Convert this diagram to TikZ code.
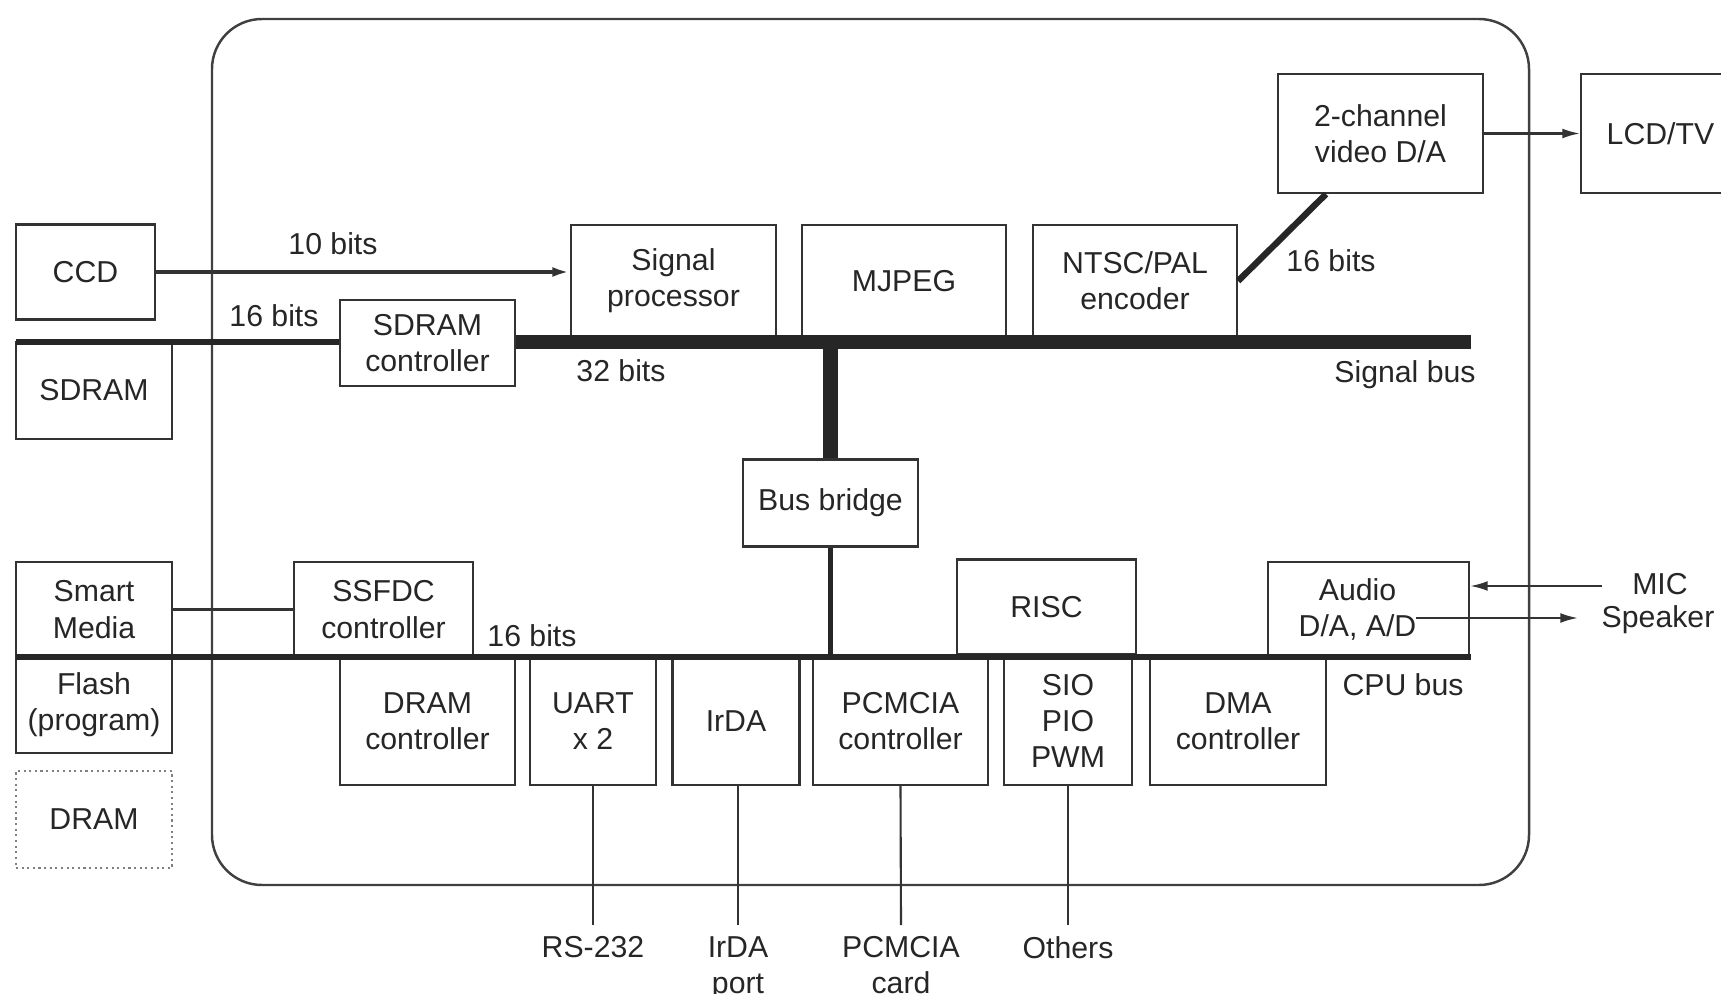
\documentclass[tikz,border=0pt]{standalone}
\usepackage{fontspec}
\setmainfont{Liberation Sans}
\usetikzlibrary{arrows.meta}

\begin{document}
\begin{tikzpicture}[x=0.01cm, y=-0.01cm,
  txt/.style={font=\fontsize{8.6}{10.3}\selectfont, text=black!85, align=center},
  blk/.style={txt, draw=black!80, line width=0.6pt, inner sep=0pt},
  lbl/.style={txt, inner sep=0pt},
  sbus/.style={line width=4pt, draw=black!85},
  cbus/.style={line width=1.8pt, draw=black!85},
  wire/.style={line width=0.6pt, draw=black!80},
  arr/.style={-{Latex[length=5pt,width=2.8pt]}}]
\useasboundingbox (0,0) rectangle (1721,994);
\clip (0,0) rectangle (1721,994);

\draw[line width=0.7pt, draw=black!75, rounded corners=0.5cm] (212,19) rectangle (1529,885);

% outside parts
\node[blk, minimum width=1.39cm, minimum height=0.95cm] (ccd) at (85.5,272) {CCD};
\node[blk, minimum width=1.56cm, minimum height=0.97cm] (sdram) at (94,390.5) {SDRAM};
\node[blk, minimum width=1.56cm, minimum height=0.95cm] (smartmedia) at (94,609.5) {Smart\\Media};
\node[blk, minimum width=1.56cm, minimum height=0.96cm] (flash) at (94,705) {Flash\\(program)};
\node[blk, draw=black!50, densely dotted, minimum width=1.56cm, minimum height=0.97cm] (dram) at (94,819.5) {DRAM};
\node[blk, minimum width=1.59cm, minimum height=1.19cm] (lcdtv) at (1660.5,133.5) {LCD/TV};

% signal bus side
\node[blk, minimum width=1.75cm, minimum height=0.86cm] (sdramctl) at (427.5,343) {SDRAM\\controller};
\node[blk, minimum width=2.05cm, minimum height=1.12cm] (sigproc) at (673.5,281) {Signal\\processor};
\node[blk, minimum width=2.04cm, minimum height=1.12cm] (mjpeg) at (904,281) {MJPEG};
\node[blk, minimum width=2.04cm, minimum height=1.12cm] (ntsc) at (1135,281) {NTSC/PAL\\encoder};
\node[blk, minimum width=2.05cm, minimum height=1.19cm] (videoda) at (1380.5,133.5) {2-channel\\video D/A};
\node[blk, minimum width=1.75cm, minimum height=0.87cm] (bridge) at (830.5,503) {Bus bridge};

% cpu bus side
\node[blk, minimum width=1.79cm, minimum height=0.95cm] (ssfdc) at (383.5,609.5) {SSFDC\\controller};
\node[blk, minimum width=1.79cm, minimum height=0.95cm] (risc) at (1046.5,607) {RISC};
\node[blk, minimum width=2.01cm, minimum height=0.95cm] (audio) at (1368.5,609.5) {Audio\kern0.22cm\\D/A, A/D\kern0.22cm};
\node[blk, minimum width=1.75cm, minimum height=1.28cm] (dramctl) at (427.5,721) {DRAM\\controller};
\node[blk, minimum width=1.26cm, minimum height=1.28cm] (uart) at (593,721) {UART\\x 2};
\node[blk, minimum width=1.27cm, minimum height=1.28cm] (irda) at (736,721) {IrDA};
\node[blk, minimum width=1.75cm, minimum height=1.28cm] (pcmcia) at (900.5,721) {PCMCIA\\controller};
\node[blk, minimum width=1.28cm, minimum height=1.28cm] (sio) at (1068,721) {SIO\\PIO\\PWM};
\node[blk, minimum width=1.76cm, minimum height=1.28cm] (dma) at (1238,721) {DMA\\controller};

% labels
\node[lbl] (bits10) at (333,244) {10 bits};
\node[lbl] (bits16a) at (274,316) {16 bits};
\node[lbl] (bits32) at (621,371) {32 bits};
\node[lbl] (sigbus) at (1405,375) {Signal bus};
\node[lbl] (bits16b) at (1331,261) {16 bits};
\node[lbl] (bits16c) at (532,636) {16 bits};
\node[lbl] (cpubus) at (1403,685) {CPU bus};
\node[lbl] (mic) at (1660,584) {MIC};
\node[lbl] (speaker) at (1658,620) {Speaker};
\node[lbl, anchor=north, inner sep=3pt] (rs232) at (593,925) {RS-232};
\node[lbl, anchor=north, inner sep=3pt] (irdaport) at (738,925) {IrDA\\port};
\node[lbl, anchor=north, inner sep=3pt] (pcmciacard) at (901,925) {PCMCIA\\card};
\node[lbl, anchor=north, inner sep=3pt] (others) at (1068,925) {Others};

\coordinate (sbL) at (16,342);
\coordinate (sbR) at (1471,342);
\coordinate (cbL) at (16,657);
\coordinate (cbR) at (1471,657);
\coordinate (micin) at (1602,586);
\coordinate (spkout) at (1416,618);
\coordinate (spkin) at (1578,618);

% buses
\draw[cbus] (sbL) -- (sdramctl.west |- sbL);
\draw[sbus] (sdramctl.east |- sbR) -- (sbR);
\draw[sbus] (bridge.north) -- (bridge.north |- sbR);
\draw[line width=1.3pt, draw=black!85] (bridge.south) -- (bridge.south |- cbR);
\draw[cbus] (cbL) -- (cbR);
\draw[line width=1.8pt, draw=black!85] (ntsc.east) -- ([xshift=-0.545cm]videoda.south);

% wires
\draw[wire, line width=1.2pt, arr] (ccd.east) -- (sigproc.west |- ccd.east);
\draw[wire, arr] (videoda.east) -- (lcdtv.west);
\draw[wire] (smartmedia.east) -- (ssfdc.west);
\draw[wire, arr] (micin) -- (micin -| audio.east);
\draw[wire, arr] (spkout) -- (spkin);
\draw[wire] (uart.south) -- (rs232.north);
\draw[wire] (irda.south -| irdaport.north) -- (irdaport.north);
\draw[wire] (pcmcia.south) -- (pcmciacard.north);
\draw[wire] (sio.south) -- (others.north);

\end{tikzpicture}
\end{document}
